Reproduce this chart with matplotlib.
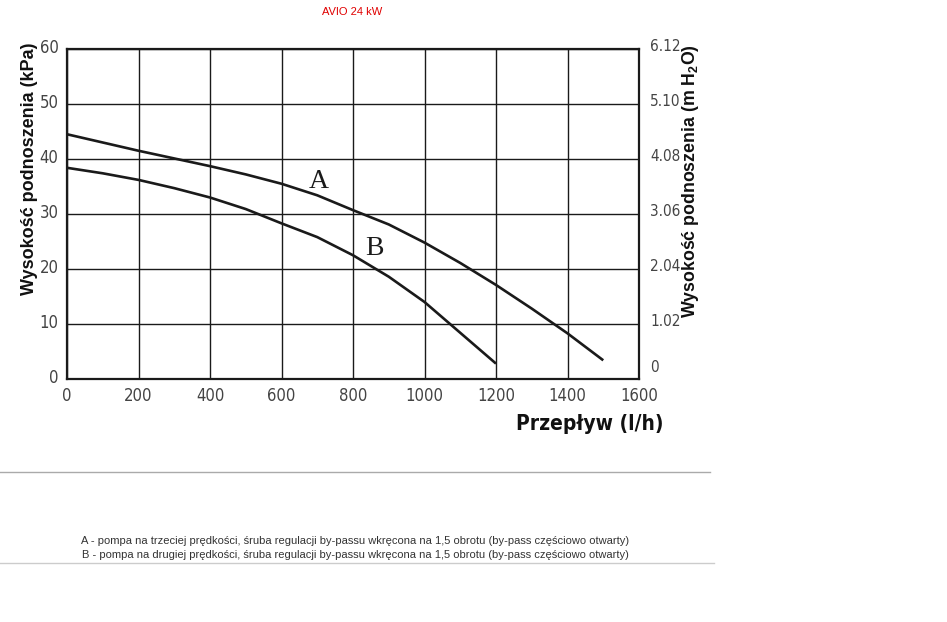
import matplotlib
matplotlib.use("Agg")
import matplotlib.pyplot as plt
import matplotlib.transforms as mtransforms
from matplotlib import font_manager as fm

plt.rcParams['mathtext.fontset'] = 'custom'
plt.rcParams['mathtext.rm'] = 'Liberation Sans'
plt.rcParams['mathtext.bf'] = 'Liberation Sans:bold'

title = "AVIO 24 kW"
x_ticks = [0, 200, 400, 600, 800, 1000, 1200, 1400, 1600]
y_ticks = [0, 10, 20, 30, 40, 50, 60]
y2_labels = ["0", "1.02", "2.04", "3.06", "4.08", "5.10", "6.12"]

flow_A = [0, 100, 200, 300, 400, 500, 600, 700, 800, 900, 1000, 1100, 1200, 1300, 1400, 1500]
head_A = [44.5, 43.0, 41.5, 40.1, 38.7, 37.2, 35.5, 33.4, 30.7, 28.1, 24.8, 21.1, 17.1, 12.8, 8.3, 3.4]
flow_B = [0, 100, 200, 300, 400, 500, 600, 700, 800, 900, 1000, 1100, 1200]
head_B = [38.4, 37.4, 36.2, 34.7, 33.0, 30.9, 28.3, 25.8, 22.5, 18.6, 14.0, 8.4, 2.8]
label_A = ("A", 703, 36.0)
label_B = ("B", 860, 23.8)

caption = ["A - pompa na trzeciej prędkości, śruba regulacji by-passu wkręcona na 1,5 obrotu (by-pass częściowo otwarty)",
           "B - pompa na drugiej prędkości, śruba regulacji by-passu wkręcona na 1,5 obrotu (by-pass częściowo otwarty)"]

cond = fm.FontProperties(family='DejaVu Sans', stretch='condensed', size=12)
cond2 = fm.FontProperties(family='DejaVu Sans', stretch='condensed', size=11)
condb = fm.FontProperties(family='DejaVu Sans', stretch='condensed', weight='bold', size=15)

fig = plt.figure(figsize=(9.47, 6.22), dpi=100)
ax = fig.add_axes([67/947, 1-379/622, 572/947, 330/622])

ax.plot(flow_A, head_A, color='#1a1a1a', lw=1.9, solid_capstyle='butt', solid_joinstyle='round')
ax.plot(flow_B, head_B, color='#1a1a1a', lw=1.9, solid_capstyle='butt', solid_joinstyle='round')
for lab, lx, ly in (label_A, label_B):
    ax.text(lx, ly, lab, fontsize=20, family='Liberation Serif', ha='center', va='center', color='#1a1a1a')

ax.set_xlim(0, 1600)
ax.set_ylim(0, 60)
ax.set_xticks(x_ticks)
ax.set_yticks(y_ticks)
ax.grid(True, color='#1a1a1a', lw=1.0)
for s in ax.spines.values():
    s.set_color('#1a1a1a')
    s.set_linewidth(1.6)
ax.tick_params(length=0, colors='#444444', pad=6)
for t in ax.get_xticklabels() + ax.get_yticklabels():
    t.set_fontproperties(cond)

ax2 = ax.twinx()
ax2.set_ylim(0, 60)
ax2.set_yticks(y_ticks)
ax2.set_yticklabels(y2_labels)
ax2.tick_params(length=0, colors='#444444', pad=8)
for s in ax2.spines.values():
    s.set_visible(False)
for i, t in enumerate(ax2.get_yticklabels()):
    t.set_fontproperties(cond2)
    dy = 9/72 if i == 0 else 3/72
    t.set_transform(t.get_transform() + mtransforms.ScaledTranslation(0, dy, fig.dpi_scale_trans))
for t in ax.get_yticklabels():
    t.set_transform(t.get_transform() + mtransforms.ScaledTranslation(0, 2/72, fig.dpi_scale_trans))

fig.text(30/947, 1-169/622, "Wysokość podnoszenia (kPa)", rotation=90, ha='center', va='center',
         fontsize=13, fontweight='bold', family='Liberation Sans', color='#111111')
fig.text(690/947, 1-181/622, r"Wysokość podnoszenia (m H$\mathbf{_2}$O)", rotation=90, ha='center', va='center',
         fontsize=12.8, fontweight='bold', family='Liberation Sans', color='#111111')
fig.text(663/947, 1-424/622, "Przepływ (l/h)", ha='right', va='center',
         fontproperties=condb, color='#111111')

fig.text(352/947, 1-12/622, title, ha='center', va='center', fontsize=8, color='#e00000', family='Liberation Sans')

fig.add_artist(plt.Line2D([0, 710/947], [1-472/622, 1-472/622], color='#aaaaaa', lw=1))
fig.add_artist(plt.Line2D([0, 714/947], [1-563/622, 1-563/622], color='#cccccc', lw=1))
fig.text(355/947, 1-541/622, caption[0], ha='center', va='center', fontsize=8, color='#333333', family='Liberation Sans')
fig.text(355/947, 1-555/622, caption[1], ha='center', va='center', fontsize=8, color='#333333', family='Liberation Sans')

fig.savefig("out.png", dpi=100)
